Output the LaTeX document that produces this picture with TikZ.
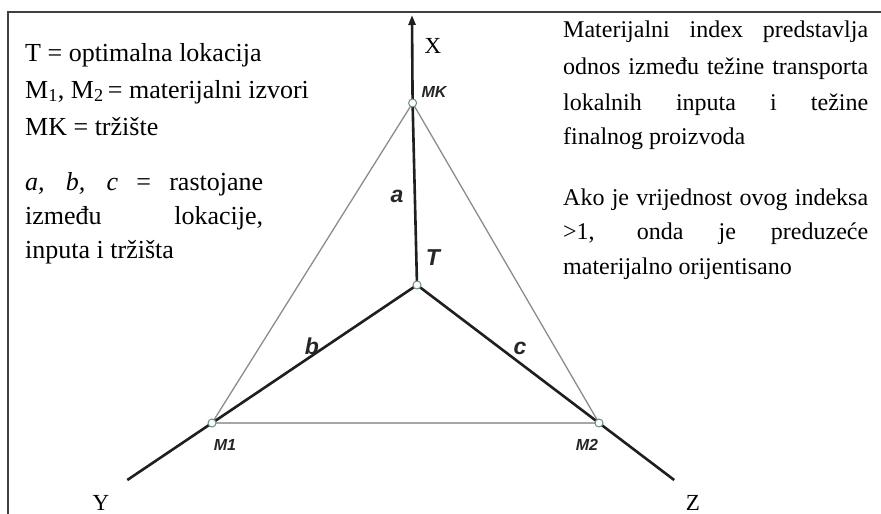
\documentclass[tikz,border=0pt]{standalone}
\usepackage{fontspec}
\setmainfont{Liberation Serif}
\newfontfamily\lsans{Liberation Sans}
\usetikzlibrary{arrows.meta}
\begin{document}
\begin{tikzpicture}[x=1pt,y=-1pt,
  txt/.style={anchor=base west, inner sep=0pt, font=\fontsize{24}{35}\selectfont},
  ltxt/.style={anchor=base west, inner sep=0pt, font=\fontsize{26}{35}\selectfont},
  lblsmall/.style={inner sep=0pt, font=\lsans\bfseries\itshape\fontsize{16}{18}\selectfont, text=black!85},
  lblbig/.style={inner sep=0pt, font=\lsans\bfseries\itshape\fontsize{23}{26}\selectfont, text=black!85},
  axislbl/.style={inner sep=0pt, anchor=base, font=\fontsize{23}{28}\selectfont},
  heavy/.style={line width=2.6pt, draw=black!88},
  thinline/.style={line width=1.3pt, draw=black!45},
  baseline/.style={line width=2.2pt, draw=black!35},
  pt/.style={circle, minimum size=8pt, inner sep=0pt, draw={rgb,255:red,105;green,140;blue,125}, line width=1pt, fill=white}]
\useasboundingbox (0,0) rectangle (881,514);
\fill[white] (0,0) rectangle (881,514);
\draw[line width=1.4pt, black!75] (8,514) -- (8,12) -- (881,12);

% geometry
\coordinate (T) at (417,285);
\coordinate (MK) at (412.6,103);
\coordinate (M1) at (212,423);
\coordinate (M2) at (599,423);
\coordinate (Xtip) at (412,15);
\coordinate (Yend) at (127.3,480);
\coordinate (Zend) at (674.2,480);

% thin triangle
\draw[thinline] (MK) -- (M1);
\draw[thinline] (MK) -- (M2);
\draw[baseline] (M1) -- (M2);

% heavy lines
\draw[heavy] (T) -- (M1) -- (Yend);
\draw[heavy] (T) -- (M2) -- (Zend);
\draw[heavy, -{Triangle[length=10pt,width=7pt]}] (T) -- (MK) -- (Xtip);

% points
\node[pt] (pT) at (T) {};
\node[pt] (pMK) at (MK) {};
\node[pt] (pM1) at (M1) {};
\node[pt] (pM2) at (M2) {};

% labels
\node[lblsmall] (lMK) at (434,92) {MK};
\node[lblbig] (la) at (397,196) {a};
\node[lblbig] (lT) at (433,258) {T};
\node[lblbig] (lb) at (312,346) {b};
\node[lblbig] (lc) at (520,348) {c};
\node[lblsmall] (lM1) at (225,445) {M1};
\node[lblsmall] (lM2) at (587,445) {M2};

\node[axislbl] (lX) at (433,53) {X};
\node[axislbl] (lY) at (101,510) {Y};
\node[axislbl] (lZ) at (693,510) {Z};

% left text
\node[ltxt] (t1) at (25,61) {T = optimalna lokacija};
\node[ltxt] (t2) at (25,98) {M\textsubscript{1}, M\textsubscript{2}\,= materijalni izvori};
\node[ltxt] (t3) at (25,135) {MK = tržište};
\node[ltxt] (t4) at (25,190) {\makebox[238pt][s]{\textit{a,} \textit{b,} \textit{c} = rastojane}};
\node[ltxt] (t5) at (25,224) {\makebox[238pt][s]{između lokacije,}};
\node[ltxt] (t6) at (25,258) {inputa i tržišta};

% right text
\node[txt] (r1) at (563,37) {\makebox[305pt][s]{Materijalni index predstavlja}};
\node[txt] (r2) at (563,74) {\makebox[305pt][s]{odnos između težine transporta}};
\node[txt] (r3) at (563,110) {\makebox[305pt][s]{lokalnih inputa i težine}};
\node[txt] (r4) at (563,144) {finalnog proizvoda};
\node[txt] (r5) at (563,205) {\makebox[305pt][s]{Ako je vrijednost ovog indeksa}};
\node[txt] (r6) at (563,239) {\makebox[305pt][s]{\textgreater1, onda je preduzeće}};
\node[txt] (r7) at (563,274) {materijalno orijentisano};
\end{tikzpicture}
\end{document}
